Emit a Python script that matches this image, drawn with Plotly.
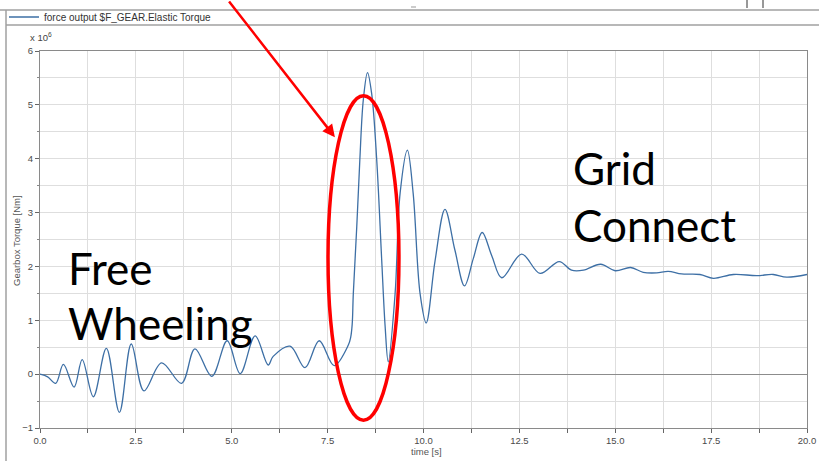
import plotly.graph_objects as go

# ---- data ----
time_s = [0.00, 0.20, 0.41, 0.61, 0.89, 1.10, 1.39, 1.73, 2.07, 2.38, 2.71, 3.17, 3.69,
          4.04, 4.48, 4.88, 5.22, 5.61, 5.95, 6.08, 6.52, 6.91, 7.28, 7.67, 8.04, 8.10,
          8.14, 8.17, 8.26, 8.34, 8.43, 8.54, 8.65, 8.78, 8.91, 9.00, 9.08, 9.26, 9.39,
          9.58, 9.73, 9.91, 10.07, 10.30, 10.56, 10.82, 11.07, 11.30, 11.53, 11.78, 12.04,
          12.56, 13.04, 13.54, 13.86, 14.17, 14.62, 15.00, 15.40, 15.73, 16.08, 16.38,
          16.73, 17.21, 17.56, 18.08, 18.69, 19.12, 19.47, 20.00]
torque_e6 = [0.00, -0.05, -0.17, 0.18, -0.24, 0.27, -0.42, 0.48, -0.71, 0.56, -0.31, 0.21, -0.17,
             0.47, -0.04, 0.62, 0.01, 0.71, 0.17, 0.33, 0.52, 0.12, 0.62, 0.16, 0.54, 0.68,
             0.92, 1.50, 2.74, 3.98, 5.09, 5.60, 5.20, 3.98, 2.12, 0.88, 0.23, 1.50, 3.36,
             4.16, 3.36, 1.50, 0.95, 2.10, 3.06, 2.30, 1.64, 2.15, 2.63, 2.20, 1.79,
             2.23, 1.87, 2.09, 1.93, 1.93, 2.04, 1.92, 1.98, 1.89, 1.88, 1.91,
             1.86, 1.85, 1.78, 1.85, 1.83, 1.85, 1.80, 1.85]

series_name = "force output $F_GEAR.Elastic Torque"
x_title = "time [s]"
y_title = "Gearbox Torque [Nm]"
x_ticks = [0, 2.5, 5, 7.5, 10, 12.5, 15, 17.5, 20]
y_ticks = [-1, 0, 1, 2, 3, 4, 5, 6]

W, H = 819, 461
L, R, T, B = 40, 807, 51, 428


def px(x):
    return (x - L) / (R - L)


def py(y):
    return (B - y) / (B - T)


fig = go.Figure()
fig.add_trace(go.Scatter(
    x=time_s, y=torque_e6, mode="lines", name=series_name,
    line=dict(color="#3d6fa5", width=1.3, shape="spline", smoothing=1.0),
    showlegend=True,
))

axis_font = dict(family="Liberation Sans, Arial, sans-serif", size=9.5, color="#4a4a4a")
grid_c = "#dedede"

fig.update_layout(
    width=W, height=H,
    margin=dict(l=L, r=W - R, t=T, b=H - B, pad=0, autoexpand=False),
    paper_bgcolor="white", plot_bgcolor="white",
    font=axis_font,
    showlegend=True,
    legend=dict(x=px(4), y=py(17), xanchor="left", yanchor="middle",
                orientation="h", bgcolor="rgba(0,0,0,0)",
                font=dict(family="Liberation Sans, Arial, sans-serif", size=10, color="#333"),
                itemwidth=30),
    xaxis=dict(range=[0, 20], tickvals=x_ticks, tickformat=".1f", automargin=False,
               ticks="outside", ticklen=4, tickcolor="#666",
               showgrid=True, gridcolor=grid_c, gridwidth=1,
               minor=dict(dtick=1.25, tick0=0, ticks="outside", ticklen=4,
                          tickcolor="#666", showgrid=True, gridcolor=grid_c),
               showline=True, linecolor="#8a8a8a", linewidth=1, mirror=True,
               zeroline=False, tickfont=axis_font),
    yaxis=dict(range=[-1, 6], tickvals=y_ticks, automargin=False,
               ticks="outside", ticklen=4, tickcolor="#666",
               showgrid=True, gridcolor=grid_c, gridwidth=1,
               minor=dict(dtick=0.5, tick0=0, ticks="outside", ticklen=2,
                          tickcolor="#888", showgrid=True, gridcolor=grid_c),
               showline=True, linecolor="#8a8a8a", linewidth=1, mirror=True,
               zeroline=True, zerolinecolor="#8c8c8c", zerolinewidth=1,
               tickfont=axis_font),
)

anns = [
    dict(text="x 10<sup>6</sup>", xref="paper", yref="paper", x=px(28), y=py(37),
         xanchor="left", yanchor="middle", showarrow=False,
         font=dict(family="Liberation Sans, Arial, sans-serif", size=9.5, color="#444")),
    dict(text=y_title, xref="paper", yref="paper", x=px(16), y=py(240),
         xanchor="center", yanchor="middle", textangle=-90, showarrow=False,
         font=dict(family="Liberation Sans, Arial, sans-serif", size=9.5, color="#555")),
    dict(text=x_title, xref="paper", yref="paper", x=px(409), y=py(451),
         xanchor="left", yanchor="middle", showarrow=False,
         font=dict(family="Liberation Sans, Arial, sans-serif", size=9.5, color="#555")),
]
big = dict(family="Lato, Liberation Sans, sans-serif", size=44, color="black")
for txt, xl, yc in [("Free", 66, 268), ("Wheeling", 66, 323), ("Grid", 571, 168), ("Connect", 571, 225)]:
    anns.append(dict(text=txt, xref="paper", yref="paper", x=px(xl), y=py(yc),
                     xanchor="left", yanchor="middle", showarrow=False, font=big))
# red arrow
anns.append(dict(text="", x=7.69, y=4.40, xref="x", yref="y", ax=-107, ay=-140,
                 showarrow=True, arrowhead=2, arrowsize=1, arrowwidth=2.5,
                 arrowcolor="#ff0000", standoff=0))
fig.update_layout(annotations=anns)

shapes = [
    # red ellipse
    dict(type="circle", xref="x", yref="y", x0=7.51, x1=9.36, y0=-0.855, y1=5.17,
         line=dict(color="#ff0000", width=3.5)),
    # window frame lines
    dict(type="line", xref="paper", yref="paper", x0=px(0), x1=px(W), y0=py(10), y1=py(10),
         line=dict(color="#a0a0a0", width=1.5)),
    dict(type="line", xref="paper", yref="paper", x0=px(6), x1=px(W), y0=py(25), y1=py(25),
         line=dict(color="#a0a0a0", width=1.5)),
    dict(type="line", xref="paper", yref="paper", x0=px(6), x1=px(6), y0=py(10), y1=py(H),
         line=dict(color="#a0a0a0", width=1.5)),
    dict(type="line", xref="paper", yref="paper", x0=px(747), x1=px(747), y0=py(0), y1=py(8),
         line=dict(color="#333", width=1)),
    dict(type="line", xref="paper", yref="paper", x0=px(763), x1=px(763), y0=py(0), y1=py(8),
         line=dict(color="#333", width=1)),
    dict(type="line", xref="paper", yref="paper", x0=px(411), x1=px(416), y0=py(7), y1=py(7),
         line=dict(color="#999", width=1)),
]
fig.update_layout(shapes=shapes)

fig.write_html("out.html", config={"displayModeBar": False},
               post_script="document.body.style.margin='0px';document.body.style.padding='0px';")
